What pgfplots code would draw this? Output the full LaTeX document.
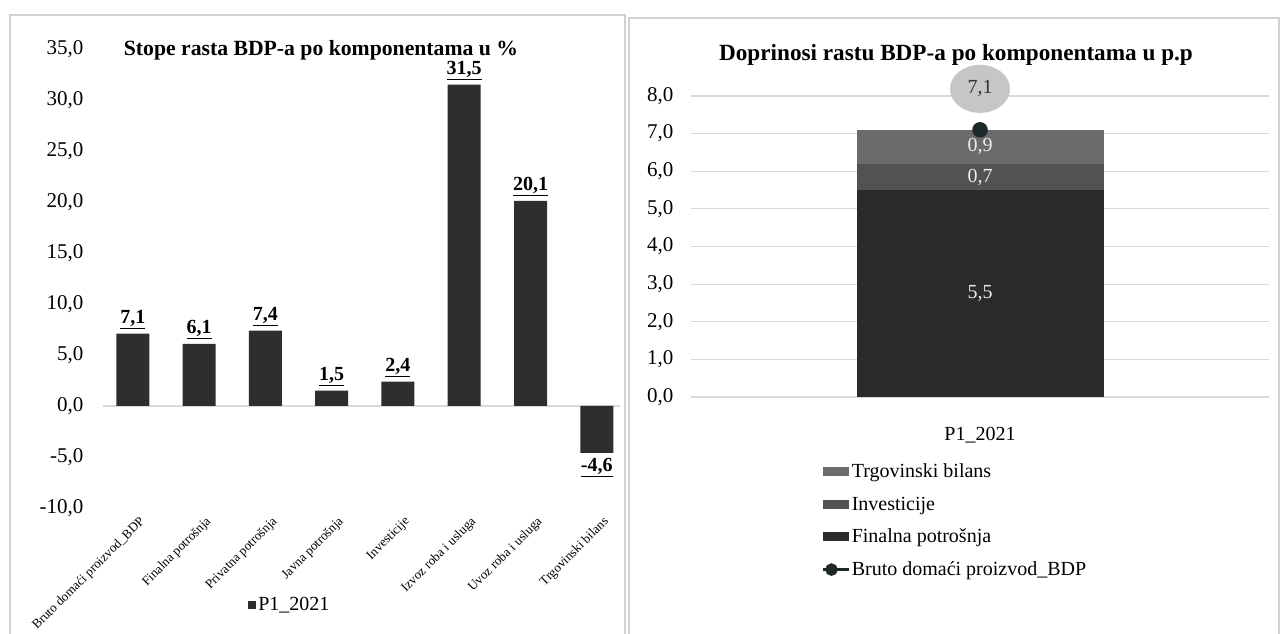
\documentclass[border=0pt]{standalone}
\usepackage{fontspec}
\setmainfont{Liberation Serif}
\usepackage{pgfplots}
\pgfplotsset{compat=1.18}
\usetikzlibrary{shapes.geometric}

\definecolor{barL}{gray}{0.18}
\definecolor{finC}{gray}{0.17}
\definecolor{invC}{gray}{0.32}
\definecolor{trgC}{gray}{0.42}
\definecolor{gridC}{gray}{0.85}
\definecolor{frameC}{gray}{0.82}
\definecolor{bdpC}{HTML}{1E2A2A}

\newcommand{\fs}[1]{\fontsize{#1bp}{#1bp}\selectfont}

\pgfplotsset{
  /pgf/number format/.cd, fixed, fixed zerofill, precision=1, use comma, assume math mode=true,
}
\pgfplotsset{
  widepatch/.style={legend image code/.code={\fill[##1] (0bp,-4.5bp) rectangle (26bp,4.5bp);}},
  smallpatch/.style={legend image code/.code={\fill[##1] (0bp,-4bp) rectangle (8bp,4bp);}},
  bdpline/.style={legend image code/.code={\draw[##1] (0bp,0bp) -- (26bp,0bp); \fill[bdpC] (9bp,0bp) circle (5bp);}},
}

\begin{document}
\begin{tikzpicture}
\useasboundingbox (0,0) rectangle (1283bp,634bp);
\fill[white] (0,0) rectangle (1283bp,634bp);
% panel frames
\draw[frameC, line width=1.2bp] (10bp,-5bp) -- (10bp,619bp) -- (625bp,619bp) -- (625bp,-5bp);
\draw[frameC, line width=1.2bp] (629bp,-5bp) -- (629bp,616bp) -- (1279bp,616bp) -- (1279bp,-5bp);

% ---------- left: growth rates ----------
\begin{axis}[
  at={(103bp,126bp)}, anchor=south west,
  scale only axis, width=517bp, height=459bp,
  xmin=-0.45, xmax=7.35, ymin=-10, ymax=35,
  ytick={-10,-5,...,35},
  xtick={0,...,7},
  xticklabels={Bruto domaći proizvod\_BDP, Finalna potrošnja, Privatna potrošnja, Javna potrošnja, Investicije, Izvoz roba i usluga, Uvoz roba i usluga, Trgovinski bilans},
  x tick label style={rotate=45, anchor=north east, font=\fs{13}, yshift=-6bp, xshift=2bp},
  y tick label style={font=\fs{21}, xshift=-16bp},
  axis line style={draw=none}, major tick length=0pt,
  extra y ticks={0}, extra y tick labels={},
  extra y tick style={grid=major, grid style={gridC, line width=1.2bp}},
  ybar, bar width=33bp,
  clip=false,
  nodes near coords={\underline{\pgfmathprintnumber{\pgfplotspointmeta}}},
  every node near coord/.append style={font=\bfseries\fs{20}, inner sep=5bp},
  legend style={at={(0.275,-0.211)}, anchor=west, draw=none, fill=none, font=\fs{20}},
]
\addplot[fill=barL, draw=none, smallpatch] coordinates {
  (0,7.1) (1,6.1) (2,7.4) (3,1.5) (4,2.4) (5,31.5) (6,20.1) (7,-4.6)
};
\addlegendentry{P1\_2021}
\end{axis}
\node[font=\bfseries\fs{21.7}] at (321bp,584bp) {Stope rasta BDP-a po komponentama u \%};

% ---------- right: contributions ----------
\begin{axis}[
  at={(691bp,237bp)}, anchor=south west,
  scale only axis, width=578bp, height=301bp,
  xmin=-1, xmax=1, ymin=0, ymax=8,
  ytick={0,1,...,8},
  xtick={0}, xticklabels={P1\_2021},
  x tick label style={font=\fs{20}, yshift=-27bp},
  y tick label style={font=\fs{21}, xshift=-14bp},
  axis line style={draw=none}, major tick length=0pt,
  ymajorgrids, grid style={gridC, line width=1.2bp},
  ybar stacked, bar width=247bp,
  clip=false,
  reverse legend,
  legend style={at={(0.225,-0.215)}, anchor=north west, draw=none, fill=none,
    font=\fs{20}, row sep=13.5bp, inner sep=0pt},
  legend cell align=left,
]
\addlegendimage{bdpC, line width=2.5bp, bdpline}
\addlegendentry{Bruto domaći proizvod\_BDP}
\addplot[fill=finC, draw=none, widepatch] coordinates {(0,5.5)};
\addlegendentry{Finalna potrošnja}
\addplot[fill=invC, draw=none, widepatch] coordinates {(0,0.7)};
\addlegendentry{Investicije}
\addplot[fill=trgC, draw=none, widepatch] coordinates {(0,0.9)};
\addlegendentry{Trgovinski bilans}
\end{axis}

\begin{axis}[
  at={(691bp,237bp)}, anchor=south west,
  scale only axis, width=578bp, height=301bp,
  xmin=-1, xmax=1, ymin=0, ymax=8,
  hide axis, clip=false,
]
\node[font=\fs{20}, text=gray!15] at (axis cs:0,2.75) {5,5};
\node[font=\fs{20}, text=gray!15] at (axis cs:0,5.85) {0,7};
\node[font=\fs{20}, text=gray!15] at (axis cs:0,6.65) {0,9};
\addplot[bdpC, line width=2.5bp, mark=*, mark size=6.5bp,
  nodes near coords,
  every node near coord/.style={anchor=center, yshift=41bp, ellipse, fill=gray!45,
    minimum width=60bp, minimum height=48bp, inner sep=0pt, text=black!80, font=\fs{20}}]
  coordinates {(0,7.1)};
\end{axis}
\node[font=\bfseries\fs{23.2}] at (956bp,579bp) {Doprinosi rastu BDP-a po komponentama u p.p};
\end{tikzpicture}
\end{document}
